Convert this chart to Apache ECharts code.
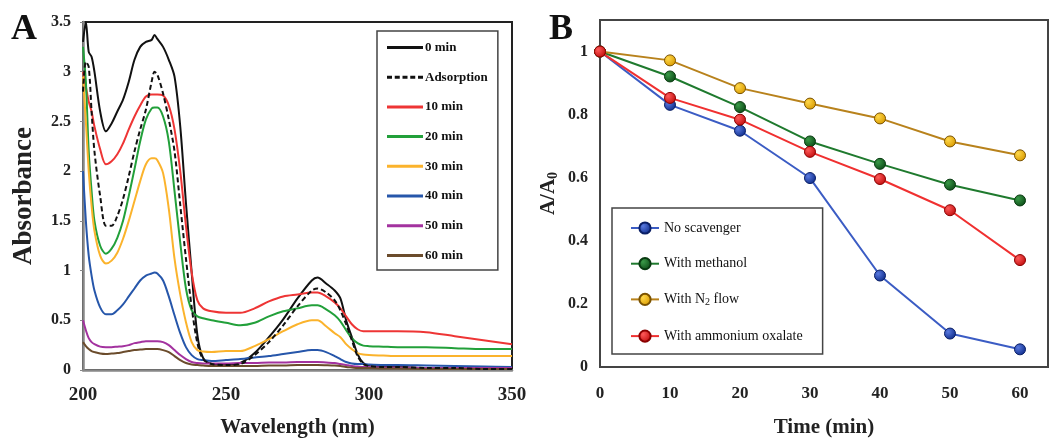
<!DOCTYPE html>
<html>
<head>
<meta charset="UTF-8">
<title></title>
<script src="https://cdn.jsdelivr.net/npm/echarts@6/dist/echarts.min.js"></script>
<style>
  html, body { margin: 0; padding: 0; background: #fff; }
  #chart { width: 1051px; height: 443px; }
</style>
</head>
<body>
<div id="chart"></div>
<script type="text/javascript">
// panel A: UV-vis spectra
var wavelength = [200, 201, 202, 203, 204, 206, 208, 210, 212, 214, 216, 218, 220, 222, 224, 225, 226, 228, 230, 232, 234, 236, 238, 240, 242, 245, 250, 255, 260, 265, 270, 275, 280, 282, 285, 288, 290, 292, 294, 296, 298, 300, 305, 310, 320, 330, 340, 350];
var abs0   = [3.3, 3.5, 3.2, 3.15, 3.0, 2.6, 2.4, 2.48, 2.6, 2.72, 2.9, 3.12, 3.25, 3.3, 3.32, 3.37, 3.33, 3.25, 3.12, 2.95, 2.45, 1.68, 0.98, 0.35, 0.12, 0.06, 0.05, 0.07, 0.17, 0.33, 0.51, 0.72, 0.9, 0.93, 0.87, 0.8, 0.72, 0.5, 0.33, 0.16, 0.07, 0.04, 0.03, 0.03, 0.02, 0.02, 0.01, 0.01];
var absAds = [2.8, 3.1, 3.05, 2.6, 2.2, 1.75, 1.45, 1.45, 1.55, 1.72, 1.95, 2.2, 2.42, 2.62, 2.9, 3.0, 2.97, 2.78, 2.52, 2.2, 1.66, 1.12, 0.63, 0.27, 0.11, 0.06, 0.05, 0.06, 0.15, 0.28, 0.45, 0.64, 0.8, 0.82, 0.78, 0.7, 0.6, 0.46, 0.3, 0.14, 0.06, 0.04, 0.03, 0.03, 0.02, 0.02, 0.01, 0.01];
var abs10  = [3.0, 2.85, 2.7, 2.6, 2.45, 2.22, 2.07, 2.1, 2.17, 2.28, 2.42, 2.55, 2.66, 2.75, 2.77, 2.77, 2.77, 2.76, 2.66, 2.42, 2.0, 1.45, 0.98, 0.7, 0.62, 0.59, 0.575, 0.575, 0.62, 0.69, 0.74, 0.76, 0.78, 0.78, 0.74, 0.68, 0.62, 0.54, 0.46, 0.41, 0.39, 0.39, 0.39, 0.39, 0.38, 0.34, 0.3, 0.26];
var abs20  = [3.25, 2.9, 2.2, 1.8, 1.5, 1.25, 1.17, 1.22, 1.33, 1.5, 1.75, 2.02, 2.3, 2.52, 2.63, 2.64, 2.64, 2.55, 2.3, 1.8, 1.28, 0.82, 0.6, 0.54, 0.52, 0.5, 0.475, 0.45, 0.475, 0.54, 0.59, 0.62, 0.65, 0.65, 0.61, 0.55, 0.49, 0.4, 0.32, 0.27, 0.245, 0.24, 0.235, 0.23, 0.23, 0.22, 0.21, 0.21];
var abs30  = [2.95, 2.5, 2.0, 1.65, 1.4, 1.15, 1.07, 1.1, 1.18, 1.32, 1.5, 1.7, 1.9, 2.07, 2.13, 2.13, 2.11, 1.98, 1.62, 1.12, 0.76, 0.48, 0.28, 0.2, 0.185, 0.18, 0.19, 0.19, 0.24, 0.31, 0.39, 0.46, 0.5, 0.5, 0.44, 0.37, 0.33, 0.26, 0.21, 0.17, 0.155, 0.15, 0.145, 0.14, 0.14, 0.14, 0.14, 0.14];
var abs40  = [2.0, 1.5, 1.15, 0.95, 0.8, 0.63, 0.56, 0.56, 0.6, 0.66, 0.74, 0.82, 0.9, 0.95, 0.97, 0.98, 0.97, 0.9, 0.74, 0.55, 0.37, 0.23, 0.15, 0.11, 0.1, 0.09, 0.1, 0.11, 0.125, 0.14, 0.16, 0.18, 0.2, 0.2, 0.18, 0.14, 0.11, 0.08, 0.065, 0.06, 0.06, 0.055, 0.05, 0.05, 0.045, 0.04, 0.035, 0.03];
var abs50  = [0.5, 0.4, 0.32, 0.28, 0.26, 0.235, 0.23, 0.23, 0.235, 0.24, 0.25, 0.27, 0.28, 0.29, 0.29, 0.29, 0.29, 0.28, 0.25, 0.2, 0.15, 0.11, 0.08, 0.07, 0.065, 0.065, 0.065, 0.07, 0.07, 0.075, 0.075, 0.08, 0.08, 0.08, 0.075, 0.07, 0.06, 0.05, 0.04, 0.035, 0.03, 0.03, 0.025, 0.025, 0.02, 0.02, 0.02, 0.02];
var abs60  = [0.28, 0.24, 0.21, 0.19, 0.18, 0.165, 0.16, 0.165, 0.17, 0.18, 0.19, 0.2, 0.205, 0.21, 0.21, 0.21, 0.21, 0.2, 0.18, 0.14, 0.1, 0.07, 0.055, 0.05, 0.045, 0.04, 0.04, 0.04, 0.04, 0.045, 0.045, 0.05, 0.05, 0.05, 0.048, 0.045, 0.04, 0.03, 0.025, 0.02, 0.02, 0.02, 0.015, 0.015, 0.01, 0.01, 0.01, 0.01];

// panel B: scavenger tests
var time = [0, 10, 20, 30, 40, 50, 60];
var noScavenger  = [1, 0.831, 0.749, 0.599, 0.29, 0.106, 0.056];
var withMethanol = [1, 0.921, 0.824, 0.715, 0.644, 0.578, 0.528];
var withN2       = [1, 0.972, 0.884, 0.835, 0.788, 0.715, 0.671];
var withOxalate  = [1, 0.853, 0.784, 0.682, 0.596, 0.497, 0.339];

var serif = '"Liberation Serif", "Times New Roman", serif';
var myChart = echarts.init(document.getElementById('chart'));

// legend icons for panel A (plain line / dashed line)
var solidIcon = 'path://M0,0H36V3H0Z';
var dashIcon = 'path://M0,0H5V3H0Z M7.75,0H12.75V3H7.75Z M15.5,0H20.5V3H15.5Z M23.25,0H28.25V3H23.25Z M31,0H36V3H31Z';

function spec(name, arr, color, dashed) {
	return {
		name: name,
		type: 'line',
		xAxisIndex: 0,
		yAxisIndex: 0,
		symbol: 'none',
		smooth: 0.3,
		data: wavelength.map(function (w, i) { return [w, arr[i]]; }),
		itemStyle: { color: color },
		lineStyle: { color: color, width: 2, type: dashed ? [5, 3] : 'solid' },
		z: dashed ? 4 : 3
	};
}

function ball(c1, c2) {
	return new echarts.graphic.RadialGradient(0.35, 0.35, 0.7, [
		{ offset: 0, color: c1 },
		{ offset: 1, color: c2 }
	]);
}

function kin(name, arr, lineColor, c1, c2, border) {
	return {
		name: name,
		type: 'line',
		xAxisIndex: 1,
		yAxisIndex: 1,
		symbol: 'circle',
		symbolSize: 11,
		data: time.map(function (t, i) { return [t, arr[i]]; }),
		lineStyle: { color: lineColor, width: 2 },
		itemStyle: { color: ball(c1, c2), borderColor: border, borderWidth: 1 }
	};
}

var option = {
	animation: false,
	backgroundColor: '#fff',
	graphic: [
		{ type: 'text', left: 11, top: 12, style: { text: 'A', font: 'bold 36px ' + serif, fill: '#111' } },
		{ type: 'text', left: 549, top: 12, style: { text: 'B', font: 'bold 36px ' + serif, fill: '#111' } }
	],
	grid: [
		{ left: 83, top: 22, width: 429, height: 351, show: true, borderColor: '#222', borderWidth: 2 },
		{ left: 600, top: 20, right: 1, bottom: 75, show: true, borderColor: '#444', borderWidth: 2 }
	],
	legend: [
		{
			data: [
				{ name: '0 min', icon: solidIcon },
				{ name: 'Adsorption', icon: dashIcon },
				{ name: '10 min', icon: solidIcon },
				{ name: '20 min', icon: solidIcon },
				{ name: '30 min', icon: solidIcon },
				{ name: '40 min', icon: solidIcon },
				{ name: '50 min', icon: solidIcon },
				{ name: '60 min', icon: solidIcon }
			],
			orient: 'vertical',
			left: 377,
			top: 31,
			padding: [10, 10, 8, 10],
			itemWidth: 36,
			itemHeight: 3,
			itemGap: 16.7,
			borderColor: '#444',
			borderWidth: 1.5,
			textStyle: { fontFamily: serif, fontWeight: 'bold', fontSize: 13, color: '#111', padding: [0, 0, 0, -3] }
		},
		{
			data: ['No scavenger', 'With methanol', 'With N2 flow', 'With ammonium oxalate'],
			orient: 'vertical',
			left: 612,
			top: 208,
			padding: [13, 20, 11, 18],
			itemWidth: 28,
			itemHeight: 14,
			itemGap: 21.7,
			borderColor: '#444',
			borderWidth: 1.5,
			formatter: function (n) {
				if (n === 'With N2 flow') return '{t|With N}{s|2}{t| flow}';
				return '{t|' + n + '}';
			},
			textStyle: {
				color: '#111',
				rich: {
					t: { fontFamily: serif, fontSize: 14, color: '#111' },
					s: { fontFamily: serif, fontSize: 10, color: '#111', verticalAlign: 'bottom', padding: [6, 0, 0, 0] }
				}
			}
		}
	],
	xAxis: [
		{
			gridIndex: 0,
			type: 'value',
			min: 200,
			max: 350,
			interval: 50,
			name: 'Wavelength (nm)',
			nameLocation: 'middle',
			nameGap: 47,
			nameTextStyle: { fontFamily: serif, fontWeight: 'bold', fontSize: 21, color: '#222' },
			axisLine: { lineStyle: { color: '#888', width: 2.5 } },
			axisTick: { show: false },
			axisLabel: { margin: 16, fontFamily: serif, fontWeight: 'bold', fontSize: 19, color: '#222' },
			splitLine: { show: false }
		},
		{
			gridIndex: 1,
			type: 'value',
			min: 0,
			max: 64,
			interval: 10,
			name: 'Time (min)',
			nameLocation: 'middle',
			nameGap: 50,
			nameTextStyle: { fontFamily: serif, fontWeight: 'bold', fontSize: 21, color: '#222' },
			axisLine: { lineStyle: { color: '#444', width: 2 } },
			axisTick: { show: false },
			axisLabel: {
				margin: 18, fontFamily: serif, fontWeight: 'bold', fontSize: 17, color: '#222',
				formatter: function (v) { return v > 60 ? '' : String(v); }
			},
			splitLine: { show: false }
		}
	],
	yAxis: [
		{
			gridIndex: 0,
			type: 'value',
			min: 0,
			max: 3.5,
			interval: 0.5,
			name: 'Absorbance',
			nameLocation: 'middle',
			nameGap: 45,
			nameTextStyle: { fontFamily: serif, fontWeight: 'bold', fontSize: 27, color: '#222' },
			axisLine: { lineStyle: { color: '#888', width: 2.5 } },
			axisTick: { show: true, length: 3, lineStyle: { color: '#888' } },
			axisLabel: { margin: 12, fontFamily: serif, fontWeight: 'bold', fontSize: 16, color: '#222' },
			splitLine: { show: false }
		},
		{
			gridIndex: 1,
			type: 'value',
			min: 0,
			max: 1.1,
			interval: 0.2,
			name: '{n|A/A}{s|0}',
			nameLocation: 'middle',
			nameGap: 40,
			nameTextStyle: {
				color: '#222',
				rich: {
					n: { fontFamily: serif, fontWeight: 'bold', fontSize: 21, color: '#222' },
					s: { fontFamily: serif, fontWeight: 'bold', fontSize: 14, color: '#222', verticalAlign: 'bottom', padding: [8, 0, 0, 0] }
				}
			},
			axisLine: { lineStyle: { color: '#444', width: 2 } },
			axisTick: { show: false },
			axisLabel: {
				margin: 12, fontFamily: serif, fontWeight: 'bold', fontSize: 16, color: '#222',
				formatter: function (v) { return v > 1.0001 ? '' : String(Math.round(v * 10) / 10); }
			},
			splitLine: { show: false }
		}
	],
	series: [
		spec('0 min', abs0, '#111111', false),
		spec('Adsorption', absAds, '#111111', true),
		spec('10 min', abs10, '#ee3535', false),
		spec('20 min', abs20, '#22a03a', false),
		spec('30 min', abs30, '#fbb32c', false),
		spec('40 min', abs40, '#2656aa', false),
		spec('50 min', abs50, '#a3329f', false),
		spec('60 min', abs60, '#6b4c2c', false),
		kin('No scavenger', noScavenger, '#3b5cc4', '#5a7ae0', '#0d2b8a', '#0a1f66'),
		kin('With methanol', withMethanol, '#1f7a2e', '#3a9a48', '#0b4a16', '#083a10'),
		kin('With N2 flow', withN2, '#b8821c', '#ffd84a', '#d99a00', '#7a5200'),
		kin('With ammonium oxalate', withOxalate, '#f03030', '#ff5a5a', '#c00c0c', '#8a0000')
	]
};
myChart.setOption(option);
</script>
</body>
</html>
